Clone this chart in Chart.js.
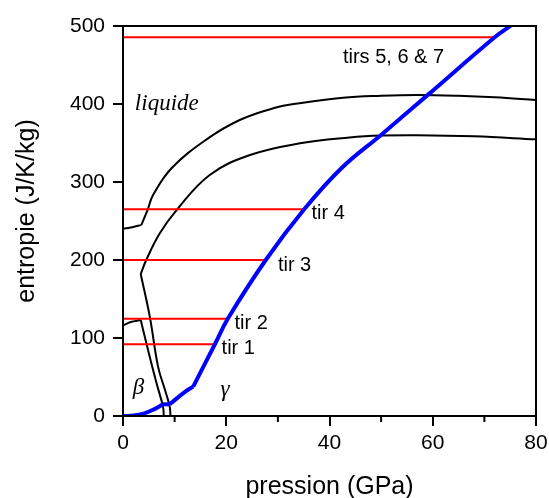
<!DOCTYPE html>
<html lang="fr">
<head>
    <meta charset="UTF-8">
    <title>Entropie - pression</title>
    <script src="https://cdn.jsdelivr.net/npm/chart.js"></script>
    <style>
        body { margin: 0; background: #fff; }
    </style>
</head>
<body>
    <canvas id="myChart" width="549" height="498"></canvas>
    <script>
        // courbes (pression GPa, entropie J/K/kg)
        var liqFlatP = [0, 1.8, 3.57];
        var liqFlatS = [240, 242, 245];
        var liqP = [3.57, 4.8, 5.8, 9.4, 16.2, 22.6, 29.1, 34.2, 42.6, 50, 57, 65, 72, 80];
        var liqS = [245, 265, 283, 317.6, 354.7, 379.5, 394.5, 401, 408, 410.5, 411.5, 410.5, 408.5, 405];
        var solP = [3.43, 4.5, 7.1, 10.5, 16.8, 24.6, 34.3, 43.9, 50.1, 57, 68, 80];
        var solS = [182, 200, 234, 265, 309, 334.6, 349.6, 357, 359.5, 360, 358.5, 354.7];
        var solDownP = [3.43, 5.2, 6.8, 8.2, 9.05, 9.2];
        var solDownS = [182, 127, 63, 32, 12, 0];
        var betaTopP = [0, 1.5, 3.43];
        var betaTopS = [116, 120.5, 123];
        var betaDownP = [3.43, 4.85, 6.5, 7.75, 7.9];
        var betaDownS = [123, 84.6, 42, 12, 0];

        // trajectoire (courbe bleue)
        var hugP = [0, 2, 4, 6, 7.75, 9.05, 12, 13.6, 17.8, 20.3, 27.65, 35.1, 42.3, 50.1, 59.1, 72, 75, 77];
        var hugS = [0, 0.5, 3, 8.5, 15, 15, 31, 37.6, 92, 124.7, 200, 265, 317.6, 361, 412, 485.5, 500, 511];

        // tirs : entropie et pression atteinte
        var shotNames = ['tir 1', 'tir 2', 'tir 3', 'tir 4', 'tirs 5, 6 & 7'];
        var shotS = [92, 124.7, 200, 265, 485.5];
        var shotP = [17.8, 20.3, 27.65, 35.1, 72];

        var xTicks = [0, 20, 40, 60, 80];
        var yTicks = [0, 100, 200, 300, 400, 500];

        function pts(px, sy) {
            return px.map(function (p, i) { return { x: p, y: sy[i] }; });
        }

        var sansFont = "'Liberation Sans', Arial, sans-serif";
        var serifFont = "'Liberation Serif', 'Times New Roman', serif";

        function blackLine(data) {
            return {
                data: data, showLine: true, pointRadius: 0,
                borderColor: '#000', borderWidth: 2,
                tension: 0.4, order: 3
            };
        }

        var datasets = [
            blackLine(pts(liqFlatP, liqFlatS)),
            blackLine(pts(liqP, liqS)),
            blackLine(pts(solP, solS)),
            blackLine(pts(solDownP, solDownS)),
            blackLine(pts(betaTopP, betaTopS)),
            blackLine(pts(betaDownP, betaDownS))
        ];

        // lignes rouges horizontales
        shotS.forEach(function (s, i) {
            datasets.push({
                data: [{ x: 0, y: s }, { x: shotP[i], y: s }],
                showLine: true, pointRadius: 0,
                borderColor: '#ff0000', borderWidth: 2, order: 2
            });
        });

        // courbe bleue, découpée aux points anguleux
        var blue = pts(hugP, hugS);
        [[0, 5], [4, 6], [5, 8], [7, 18]].forEach(function (r) {
            datasets.push({
                data: blue.slice(r[0], r[1]),
                showLine: true, pointRadius: 0,
                borderColor: '#0000ff', borderWidth: 4,
                tension: 0.4, order: 1
            });
        });

        // annotations (position en coordonnées des axes)
        var notes = [
            { text: shotNames[0], x: 19.1, y: 86, font: '20px ' + sansFont },
            { text: shotNames[1], x: 21.6, y: 118, font: '20px ' + sansFont },
            { text: shotNames[2], x: 30.0, y: 193, font: '20px ' + sansFont },
            { text: shotNames[3], x: 36.5, y: 259, font: '20px ' + sansFont },
            { text: shotNames[4], x: 42.6, y: 459, font: '20px ' + sansFont },
            { text: 'liquide', x: 2.3, y: 400, font: 'italic 23px ' + serifFont },
            { text: 'β', x: 1.9, y: 36, font: 'italic 23px ' + serifFont },
            { text: 'γ', x: 18.9, y: 33, font: 'italic 23px ' + serifFont }
        ];

        var decor = {
            id: 'decor',
            afterDraw: function (chart) {
                var ctx = chart.ctx, a = chart.chartArea;
                var xs = chart.scales.x, ys = chart.scales.y;
                ctx.save();
                // cadre
                ctx.strokeStyle = '#000';
                ctx.lineWidth = 2;
                ctx.strokeRect(a.left, a.top, a.right - a.left, a.bottom - a.top);
                // petites graduations
                [10, 30, 50, 70].forEach(function (v) {
                    var px = xs.getPixelForValue(v);
                    ctx.beginPath();
                    ctx.moveTo(px, a.bottom);
                    ctx.lineTo(px, a.bottom + 6);
                    ctx.stroke();
                });
                // textes
                ctx.fillStyle = '#000';
                ctx.textAlign = 'left';
                ctx.textBaseline = 'middle';
                notes.forEach(function (n) {
                    ctx.font = n.font;
                    ctx.fillText(n.text, xs.getPixelForValue(n.x), ys.getPixelForValue(n.y));
                });
                // titres des axes
                ctx.font = '25px ' + sansFont;
                ctx.textAlign = 'center';
                ctx.textBaseline = 'alphabetic';
                ctx.fillText('pression (GPa)', (a.left + a.right) / 2, 494);
                ctx.translate(27, 211);
                ctx.rotate(-Math.PI / 2);
                ctx.textBaseline = 'middle';
                ctx.fillText('entropie (J/K/kg)', 0, 0);
                ctx.restore();
            }
        };

        var ctx = document.getElementById('myChart').getContext('2d');
        var myChart = new Chart(ctx, {
            type: 'scatter',
            data: { datasets: datasets },
            options: {
                responsive: false,
                animation: false,
                layout: { padding: { left: 0, right: 13, top: 26, bottom: 0 } },
                plugins: { legend: { display: false }, tooltip: { enabled: false } },
                scales: {
                    x: {
                        type: 'linear', min: 0, max: 80,
                        afterFit: function (s) { s.height = 82; s.paddingLeft = 0; s.paddingRight = 0; },
                        afterBuildTicks: function (s) { s.ticks = xTicks.map(function (v) { return { value: v }; }); },
                        ticks: { color: '#000', padding: 5, font: { size: 21, family: sansFont } },
                        grid: { drawOnChartArea: false, drawTicks: true, tickLength: 10, color: '#000', lineWidth: 2 },
                        border: { display: true, color: '#000', width: 2 }
                    },
                    y: {
                        type: 'linear', min: 0, max: 500,
                        afterFit: function (s) { s.width = 123; s.paddingTop = 0; s.paddingBottom = 0; },
                        afterBuildTicks: function (s) { s.ticks = yTicks.map(function (v) { return { value: v }; }); },
                        ticks: { color: '#000', padding: 8, font: { size: 21, family: sansFont } },
                        grid: { drawOnChartArea: false, drawTicks: true, tickLength: 10, color: '#000', lineWidth: 2 },
                        border: { display: true, color: '#000', width: 2 }
                    }
                }
            },
            plugins: [decor]
        });
    </script>
</body>
</html>
